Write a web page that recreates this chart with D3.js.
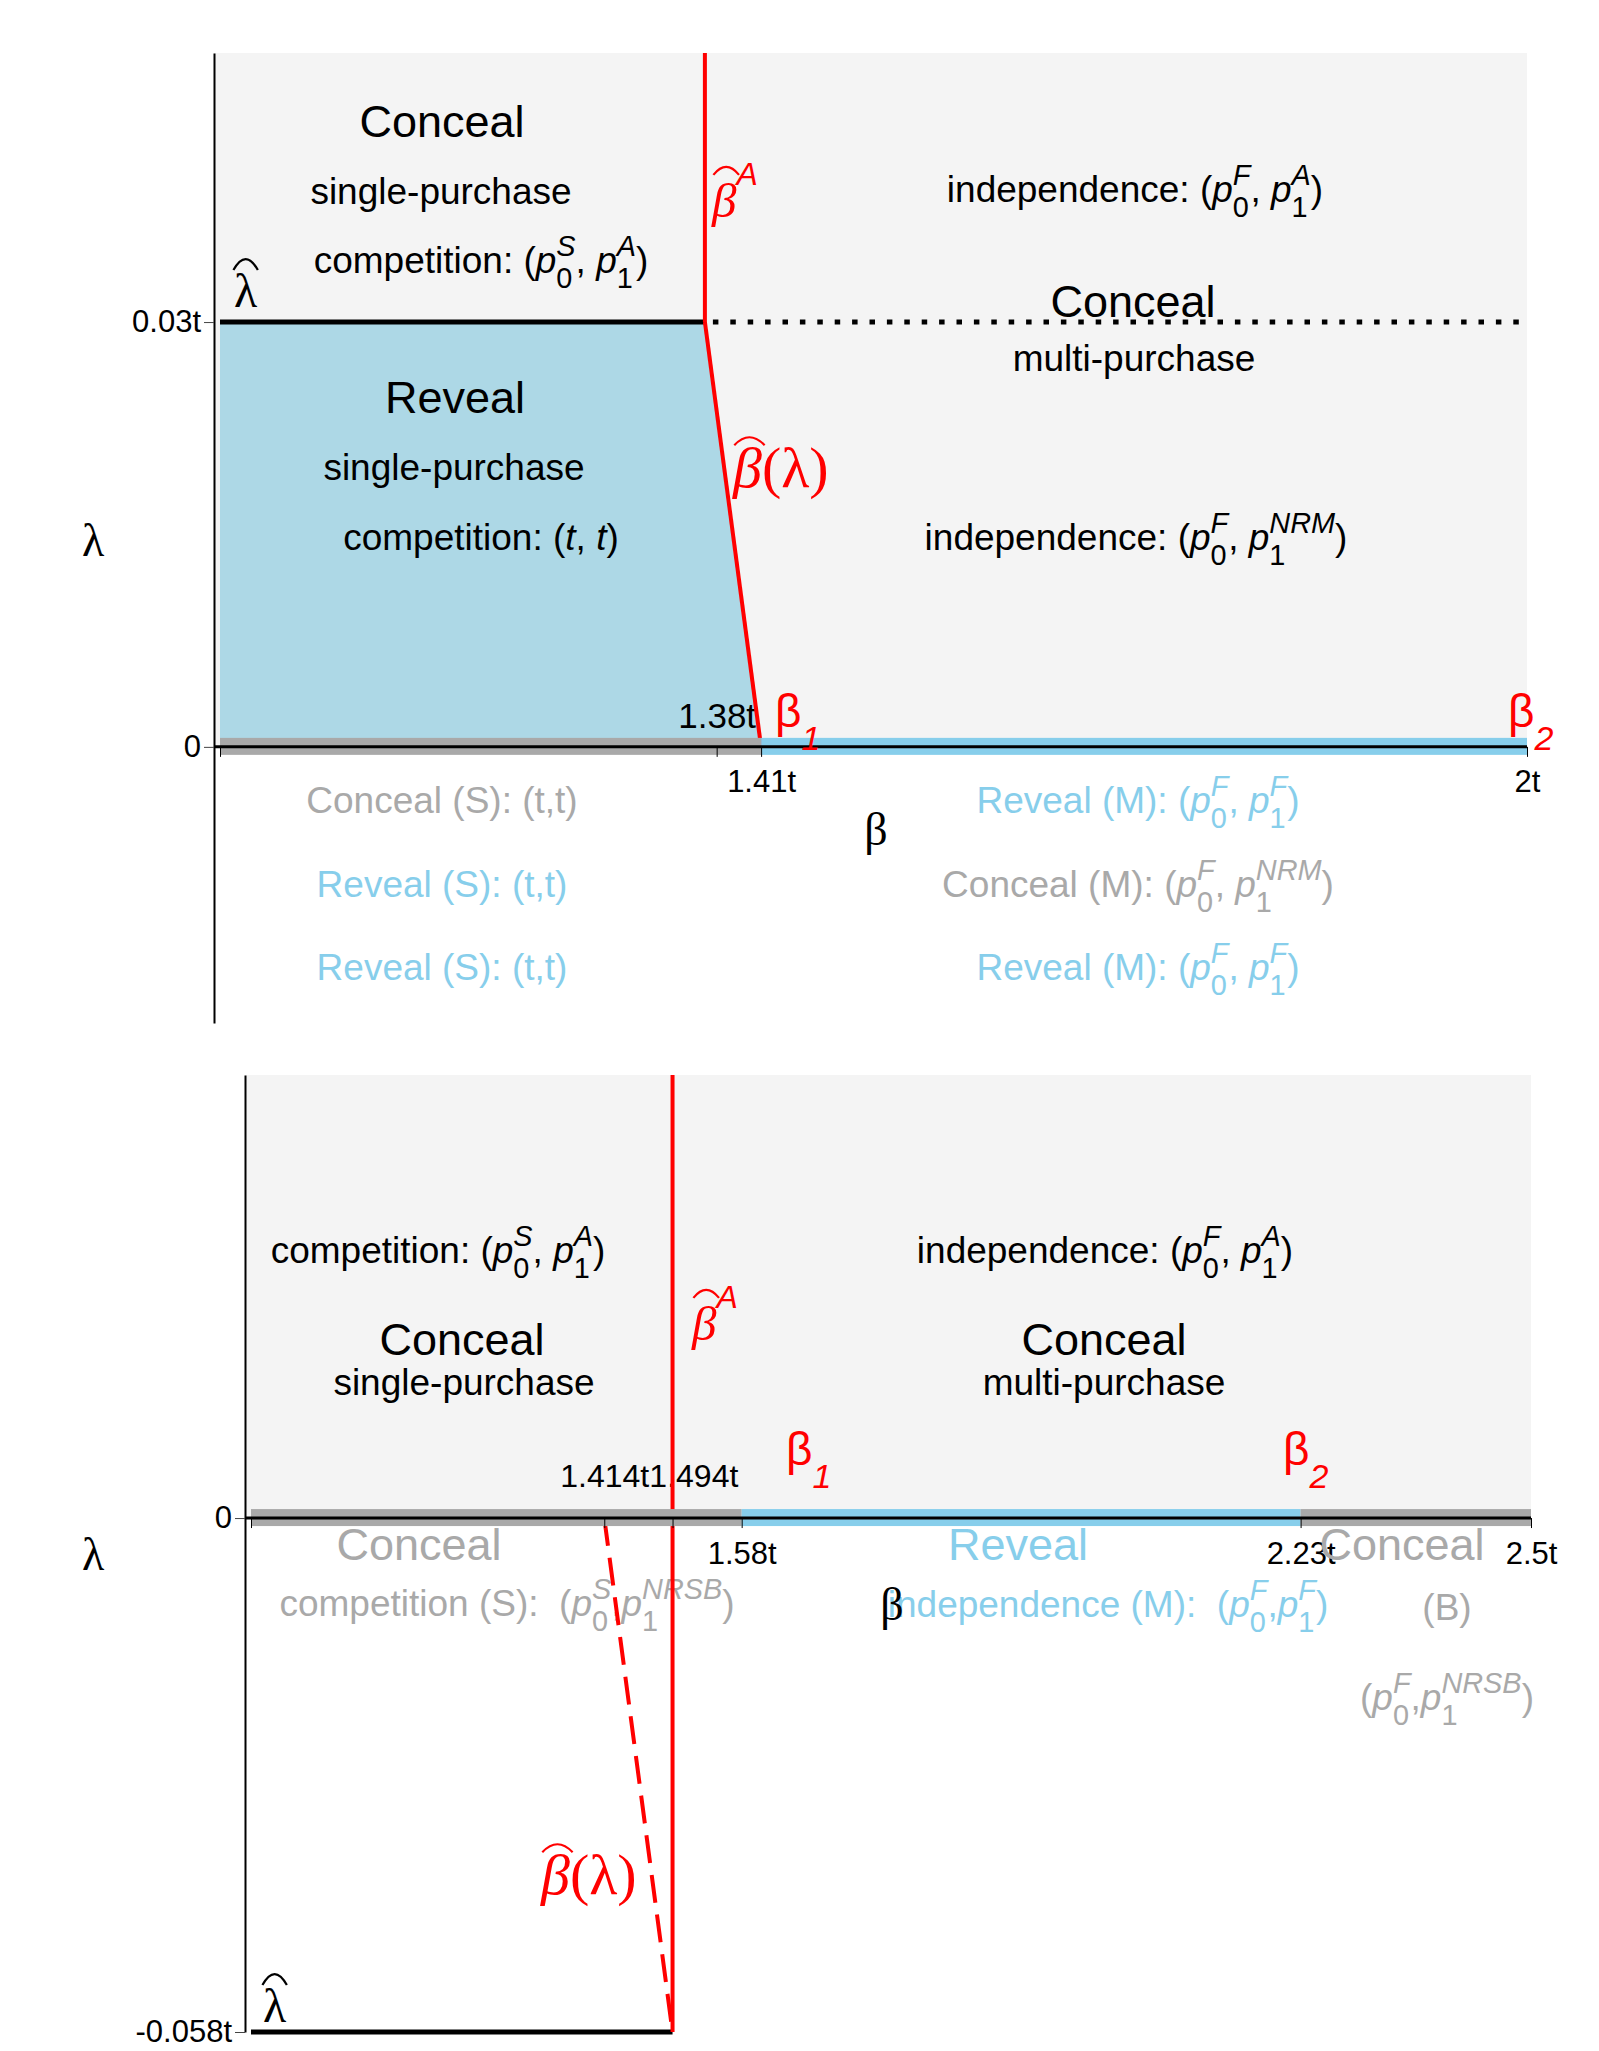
<!DOCTYPE html>
<html>
<head>
<meta charset="utf-8">
<script src="https://cdn.jsdelivr.net/npm/d3@7"></script>
<style>
body { margin: 0; background: #fff; }
svg { font-family: "Liberation Sans", Arial, sans-serif; }
</style>
</head>
<body>
<svg id="chart" width="1599" height="2051"></svg>
<script>
// ---- top panel (lambda >= 0) ----
var topBetaDomain = [1, 2];
var topLambdaDomain = [-0.0195, 0.049];
var topXTicks = [1, 1.38, 1.414, 2];
var topXTickLabels = ['', '1.38t', '1.41t', '2t'];
var topYTicks = [0, 0.03];
var topYTickLabels = ['0', '0.03t'];
var topLambdaHat = 0.03;
var topBetaHatA = 1.371;
var topBetaHatCurve = [[1.371, 0.03], [1.414, 0]];
var topRevealRegion = [[1, 0], [1, 0.03], [1.371, 0.03], [1.414, 0]];
var topBandStart = [1, 1.414];
var topBandEnd = [1.414, 2];
var topBandKind = ['conceal', 'reveal'];

// ---- bottom panel (lambda < 0) ----
var botBetaDomain = [1, 2.5];
var botLambdaDomain = [-0.058, 0.05];
var botXTicks = [1, 1.414, 1.494, 1.575, 2.23, 2.5];
var botXTickLabels = ['', '1.414t', '1.494t', '1.58t', '2.23t', '2.5t'];
var botYTicks = [0, -0.058];
var botYTickLabels = ['0', '-0.058t'];
var botLambdaHat = -0.058;
var botBetaHatA = 1.494;
var botBetaHatCurve = [[1.414, 0], [1.494, -0.058]];
var botBandStart = [1, 1.575, 2.23];
var botBandEnd = [1.575, 2.23, 2.5];
var botBandKind = ['conceal', 'reveal', 'conceal'];

var BG = '#f4f4f4', LIGHTBLUE = '#add8e6', SKY = '#87ceeb', GRAY = '#a9a9a9', RED = '#ff0000';
var SERIF = '"Liberation Serif", "Times New Roman", serif';

var svg = d3.select('#chart');
var under = svg.append('g');   // backgrounds, regions, texts
var redLayer = svg.append('g'); // red boundaries
var axisLayer = svg.append('g'); // strategy band and axes
var labelLayer = svg.append('g'); // red / hat labels

var topX = d3.scaleLinear().domain(topBetaDomain).range([220, 1527]);
var topY = d3.scaleLinear().domain(topLambdaDomain).range([1023, 53]);
var botX = d3.scaleLinear().domain(botBetaDomain).range([251, 1531]);
var botY = d3.scaleLinear().domain(botLambdaDomain).range([2032, 1075]);

// text with italic p and stacked sub/superscripts
function richText(g, x, y, size, color, tokens, anchor) {
    var t = g.append('text')
        .attr('x', x).attr('y', y)
        .attr('text-anchor', anchor || 'middle')
        .attr('fill', color)
        .style('font-size', size + 'px')
        .style('white-space', 'pre');
    var shift = 0, subW = 0;
    tokens.forEach(function(tk) {
        var s = t.append('tspan').text(tk[1]);
        var target = 0;
        if (tk[0] === 'sub') target = size * 0.4;
        if (tk[0] === 'sup') target = -size * 0.46;
        if (target - shift !== 0) s.attr('dy', target - shift);
        shift = target;
        if (tk[0] === 'i' || tk[0] === 'sup') s.style('font-style', 'italic');
        if (tk[0] === 'sub' || tk[0] === 'sup') s.style('font-size', (size * 0.78) + 'px');
        if (tk[0] === 'sub') subW = s.node().getComputedTextLength();
        if (tk[0] === 'sup') s.attr('dx', -subW);
    });
    return t;
}

function hat(g, cx, yb, w, h, color) {
    g.append('path')
        .attr('d', 'M' + (cx - w / 2) + ',' + yb + ' Q' + cx + ',' + (yb - 2 * h) + ' ' + (cx + w / 2) + ',' + yb)
        .attr('fill', 'none').attr('stroke', color).attr('stroke-width', 2.2);
}

// hatted greek letter followed by an optional tail
function hatLabel(g, x, y, size, color, ch, italic, hatOff, tail) {
    var t = g.append('text').attr('x', x).attr('y', y).attr('fill', color);
    var b = t.append('tspan').text(ch)
        .style('font-family', SERIF)
        .style('font-style', italic ? 'italic' : 'normal')
        .style('font-size', size + 'px');
    var w = b.node().getComputedTextLength();
    if (tail) tail(t, size);
    hat(g, x + w / 2 + (italic ? 2 : 0), y - size * hatOff, w * 1.05, italic ? 8 : 11, color);
}

function betaSub(g, x, y, idx) {
    var t = g.append('text').attr('x', x).attr('y', y).attr('fill', RED);
    t.append('tspan').text('β').style('font-size', '46px');
    t.append('tspan').text(idx).attr('dy', 23).style('font-size', '34px').style('font-style', 'italic');
}

function panel(x, y, axisX, o) {
    var xr = x.range(), y0 = y(0), yTop = y.range()[1];

    under.append('rect')
        .attr('x', axisX).attr('y', yTop)
        .attr('width', xr[1] - axisX).attr('height', y0 - yTop)
        .attr('fill', BG);

    if (o.reveal) {
        under.append('path').datum(o.reveal)
            .attr('d', d3.line().x(function(d) { return x(d[0]); }).y(function(d) { return y(d[1]); }))
            .attr('fill', LIGHTBLUE);
    }

    // lambda-hat boundary
    under.append('line')
        .attr('x1', x(x.domain()[0])).attr('x2', x(o.betaHatA))
        .attr('y1', y(o.lambdaHat)).attr('y2', y(o.lambdaHat))
        .attr('stroke', '#000').attr('stroke-width', 5);
    if (o.dotted) {
        under.append('line')
            .attr('x1', x(o.betaHatA) + 8).attr('x2', xr[1])
            .attr('y1', y(o.lambdaHat)).attr('y2', y(o.lambdaHat))
            .attr('stroke', '#000').attr('stroke-width', 5)
            .attr('stroke-dasharray', '5.5,11.9');
    }

    // tick labels (below the red lines)
    var xl = d3.axisBottom(x).tickValues(o.xTicks)
        .tickFormat(function(d, i) { return o.xTickLabels[i]; })
        .tickSize(0).tickSizeOuter(0);
    var xlg = under.append('g').attr('transform', 'translate(0,' + y0 + ')').call(xl)
        .attr('font-family', null).attr('font-size', 31);
    xlg.select('.domain').remove();
    xlg.selectAll('.tick line').remove();
    xlg.selectAll('.tick text').attr('fill', '#000').attr('y', o.belowY).attr('dy', 0);
    var prevRight = -1e9;
    xlg.selectAll('.tick text').filter(function(d) { return o.raised.indexOf(d) >= 0; })
        .attr('y', o.raisedY).style('font-size', o.raisedSize + 'px')
        .each(function(d) {
            var bb = this.getBBox();
            var left = x(d) + bb.x;
            if (left < prevRight) {
                d3.select(this).attr('dx', prevRight - left);
                left = prevRight;
            }
            prevRight = left + bb.width;
        });

    // beta-hat-A vertical boundary and beta-hat(lambda) curve
    redLayer.append('line')
        .attr('x1', x(o.betaHatA)).attr('x2', x(o.betaHatA))
        .attr('y1', y(o.lambdaHat)).attr('y2', yTop)
        .attr('stroke', RED).attr('stroke-width', 4);
    redLayer.append('path').datum(o.curve)
        .attr('d', d3.line().x(function(d) { return x(d[0]); }).y(function(d) { return y(d[1]); }))
        .attr('fill', 'none').attr('stroke', RED).attr('stroke-width', 4)
        .attr('stroke-dasharray', o.curveDash || null);

    // strategy band on the beta axis
    axisLayer.selectAll(null).data(o.bandStart).enter().append('rect')
        .attr('x', function(d) { return x(d); })
        .attr('width', function(d, i) { return x(o.bandEnd[i]) - x(d); })
        .attr('y', y0 - 9).attr('height', 17)
        .attr('fill', function(d, i) { return o.bandKind[i] === 'reveal' ? SKY : GRAY; });

    axisLayer.append('line')
        .attr('x1', axisX).attr('x2', xr[1]).attr('y1', y0).attr('y2', y0)
        .attr('stroke', '#000').attr('stroke-width', 3);

    var xa = d3.axisBottom(x).tickValues(o.xTicks).tickFormat('')
        .tickSize(10).tickSizeOuter(0);
    var xg = axisLayer.append('g').attr('transform', 'translate(0,' + y0 + ')').call(xa);
    xg.select('.domain').remove();
    xg.selectAll('.tick line').attr('stroke', '#000');

    var ya = d3.axisLeft(y).tickValues(o.yTicks)
        .tickFormat(function(d, i) { return o.yTickLabels[i]; })
        .tickSize(10).tickSizeOuter(0);
    var yg = axisLayer.append('g').attr('transform', 'translate(' + axisX + ',0)').call(ya)
        .attr('font-family', null).attr('font-size', 31);
    yg.select('.domain').attr('stroke', '#000').attr('stroke-width', 2);
    yg.selectAll('.tick line').attr('stroke', '#444');
    yg.selectAll('.tick text').attr('fill', '#000');
}

panel(topX, topY, 214, {
    reveal: topRevealRegion, lambdaHat: topLambdaHat, betaHatA: topBetaHatA, dotted: true,
    bandStart: topBandStart, bandEnd: topBandEnd, bandKind: topBandKind,
    xTicks: topXTicks, xTickLabels: topXTickLabels, yTicks: topYTicks, yTickLabels: topYTickLabels,
    belowY: 45, raised: [1.38], raisedY: -19, raisedSize: 35, curve: topBetaHatCurve
});
panel(botX, botY, 245, {
    lambdaHat: botLambdaHat, betaHatA: botBetaHatA, dotted: false,
    bandStart: botBandStart, bandEnd: botBandEnd, bandKind: botBandKind,
    xTicks: botXTicks, xTickLabels: botXTickLabels, yTicks: botYTicks, yTickLabels: botYTickLabels,
    belowY: 46, raised: [1.414, 1.494], raisedY: -31, raisedSize: 32,
    curve: botBetaHatCurve, curveDash: '28,12'
});

// ---- annotations ----
var comp = [['n', 'competition: ('], ['i', 'p'], ['sub', '0'], ['sup', 'S'], ['n', ', '], ['i', 'p'], ['sub', '1'], ['sup', 'A'], ['n', ')']];
var indepA = [['n', 'independence: ('], ['i', 'p'], ['sub', '0'], ['sup', 'F'], ['n', ', '], ['i', 'p'], ['sub', '1'], ['sup', 'A'], ['n', ')']];
var indepNRM = [['n', 'independence: ('], ['i', 'p'], ['sub', '0'], ['sup', 'F'], ['n', ', '], ['i', 'p'], ['sub', '1'], ['sup', 'NRM'], ['n', ')']];
var revM = [['n', 'Reveal (M): ('], ['i', 'p'], ['sub', '0'], ['sup', 'F'], ['n', ', '], ['i', 'p'], ['sub', '1'], ['sup', 'F'], ['n', ')']];
var conM = [['n', 'Conceal (M): ('], ['i', 'p'], ['sub', '0'], ['sup', 'F'], ['n', ', '], ['i', 'p'], ['sub', '1'], ['sup', 'NRM'], ['n', ')']];

var g = under;

// top panel text
richText(g, 442, 137, 45, '#000', [['n', 'Conceal']]);
richText(g, 441, 204, 37, '#000', [['n', 'single-purchase']]);
richText(g, 481, 273, 37, '#000', comp);
richText(g, 1135, 202, 37, '#000', indepA);
richText(g, 1133, 317, 45, '#000', [['n', 'Conceal']]);
richText(g, 1134, 371, 37, '#000', [['n', 'multi-purchase']]);
richText(g, 455, 413, 45, '#000', [['n', 'Reveal']]);
richText(g, 454, 480, 37, '#000', [['n', 'single-purchase']]);
richText(g, 481, 550, 37, '#000', [['n', 'competition: ('], ['i', 't'], ['n', ', '], ['i', 't'], ['n', ')']]);
richText(g, 1136, 550, 37, '#000', indepNRM);

richText(g, 442, 813, 37, GRAY, [['n', 'Conceal (S): (t,t)']]);
richText(g, 442, 897, 37, SKY, [['n', 'Reveal (S): (t,t)']]);
richText(g, 442, 980, 37, SKY, [['n', 'Reveal (S): (t,t)']]);
richText(g, 1138, 813, 37, SKY, revM);
richText(g, 1138, 897, 37, GRAY, conM);
richText(g, 1138, 980, 37, SKY, revM);

// bottom panel text
richText(g, 438, 1263, 37, '#000', comp);
richText(g, 462, 1355, 45, '#000', [['n', 'Conceal']]);
richText(g, 464, 1395, 37, '#000', [['n', 'single-purchase']]);
richText(g, 1105, 1263, 37, '#000', indepA);
richText(g, 1104, 1355, 45, '#000', [['n', 'Conceal']]);
richText(g, 1104, 1395, 37, '#000', [['n', 'multi-purchase']]);

richText(g, 419, 1560, 45, GRAY, [['n', 'Conceal']]);
richText(g, 507, 1616, 37, GRAY, [['n', 'competition (S):  ('], ['i', 'p'], ['sub', '0'], ['sup', 'S'], ['n', ','], ['i', 'p'], ['sub', '1'], ['sup', 'NRSB'], ['n', ')']]);
richText(g, 1018, 1560, 45, SKY, [['n', 'Reveal']]);
richText(g, 1108, 1617, 37, SKY, [['n', 'independence (M):  ('], ['i', 'p'], ['sub', '0'], ['sup', 'F'], ['n', ','], ['i', 'p'], ['sub', '1'], ['sup', 'F'], ['n', ')']]);
richText(g, 1402, 1560, 45, GRAY, [['n', 'Conceal']]);
richText(g, 1447, 1620, 37, GRAY, [['n', '(B)']]);
richText(g, 1447, 1710, 37, GRAY, [['n', '('], ['i', 'p'], ['sub', '0'], ['sup', 'F'], ['n', ','], ['i', 'p'], ['sub', '1'], ['sup', 'NRSB'], ['n', ')']]);

// axis titles
[[82, 556], [82, 1570]].forEach(function(p) {
    labelLayer.append('text').attr('x', p[0]).attr('y', p[1]).text('λ')
        .style('font-family', SERIF).style('font-size', '46px');
});
[[876, 845], [892, 1620]].forEach(function(p) {
    labelLayer.append('text').attr('x', p[0]).attr('y', p[1]).attr('text-anchor', 'middle').text('β')
        .style('font-family', SERIF).style('font-size', '46px');
});

// red boundary labels
function supA(t, size) {
    t.append('tspan').text('A').attr('dy', -32)
        .style('font-style', 'italic').style('font-size', '32px');
}
function paren(t, size) {
    t.append('tspan').text('(λ)').style('font-family', SERIF).style('font-size', size + 'px');
}
hatLabel(labelLayer, 712, 217, 49, RED, 'β', true, 0.86, supA);
hatLabel(labelLayer, 692, 1340, 49, RED, 'β', true, 0.86, supA);
hatLabel(labelLayer, 733, 487, 58, RED, 'β', true, 0.72, paren);
hatLabel(labelLayer, 541, 1894, 58, RED, 'β', true, 0.72, paren);
betaSub(labelLayer, 775, 727, '1');
betaSub(labelLayer, 1508, 727, '2');
betaSub(labelLayer, 786, 1465, '1');
betaSub(labelLayer, 1283, 1465, '2');

// lambda-hat labels
hatLabel(labelLayer, 234, 307, 48, '#000', 'λ', false, 0.77);
hatLabel(labelLayer, 263, 2022, 48, '#000', 'λ', false, 0.77);
</script>
</body>
</html>
